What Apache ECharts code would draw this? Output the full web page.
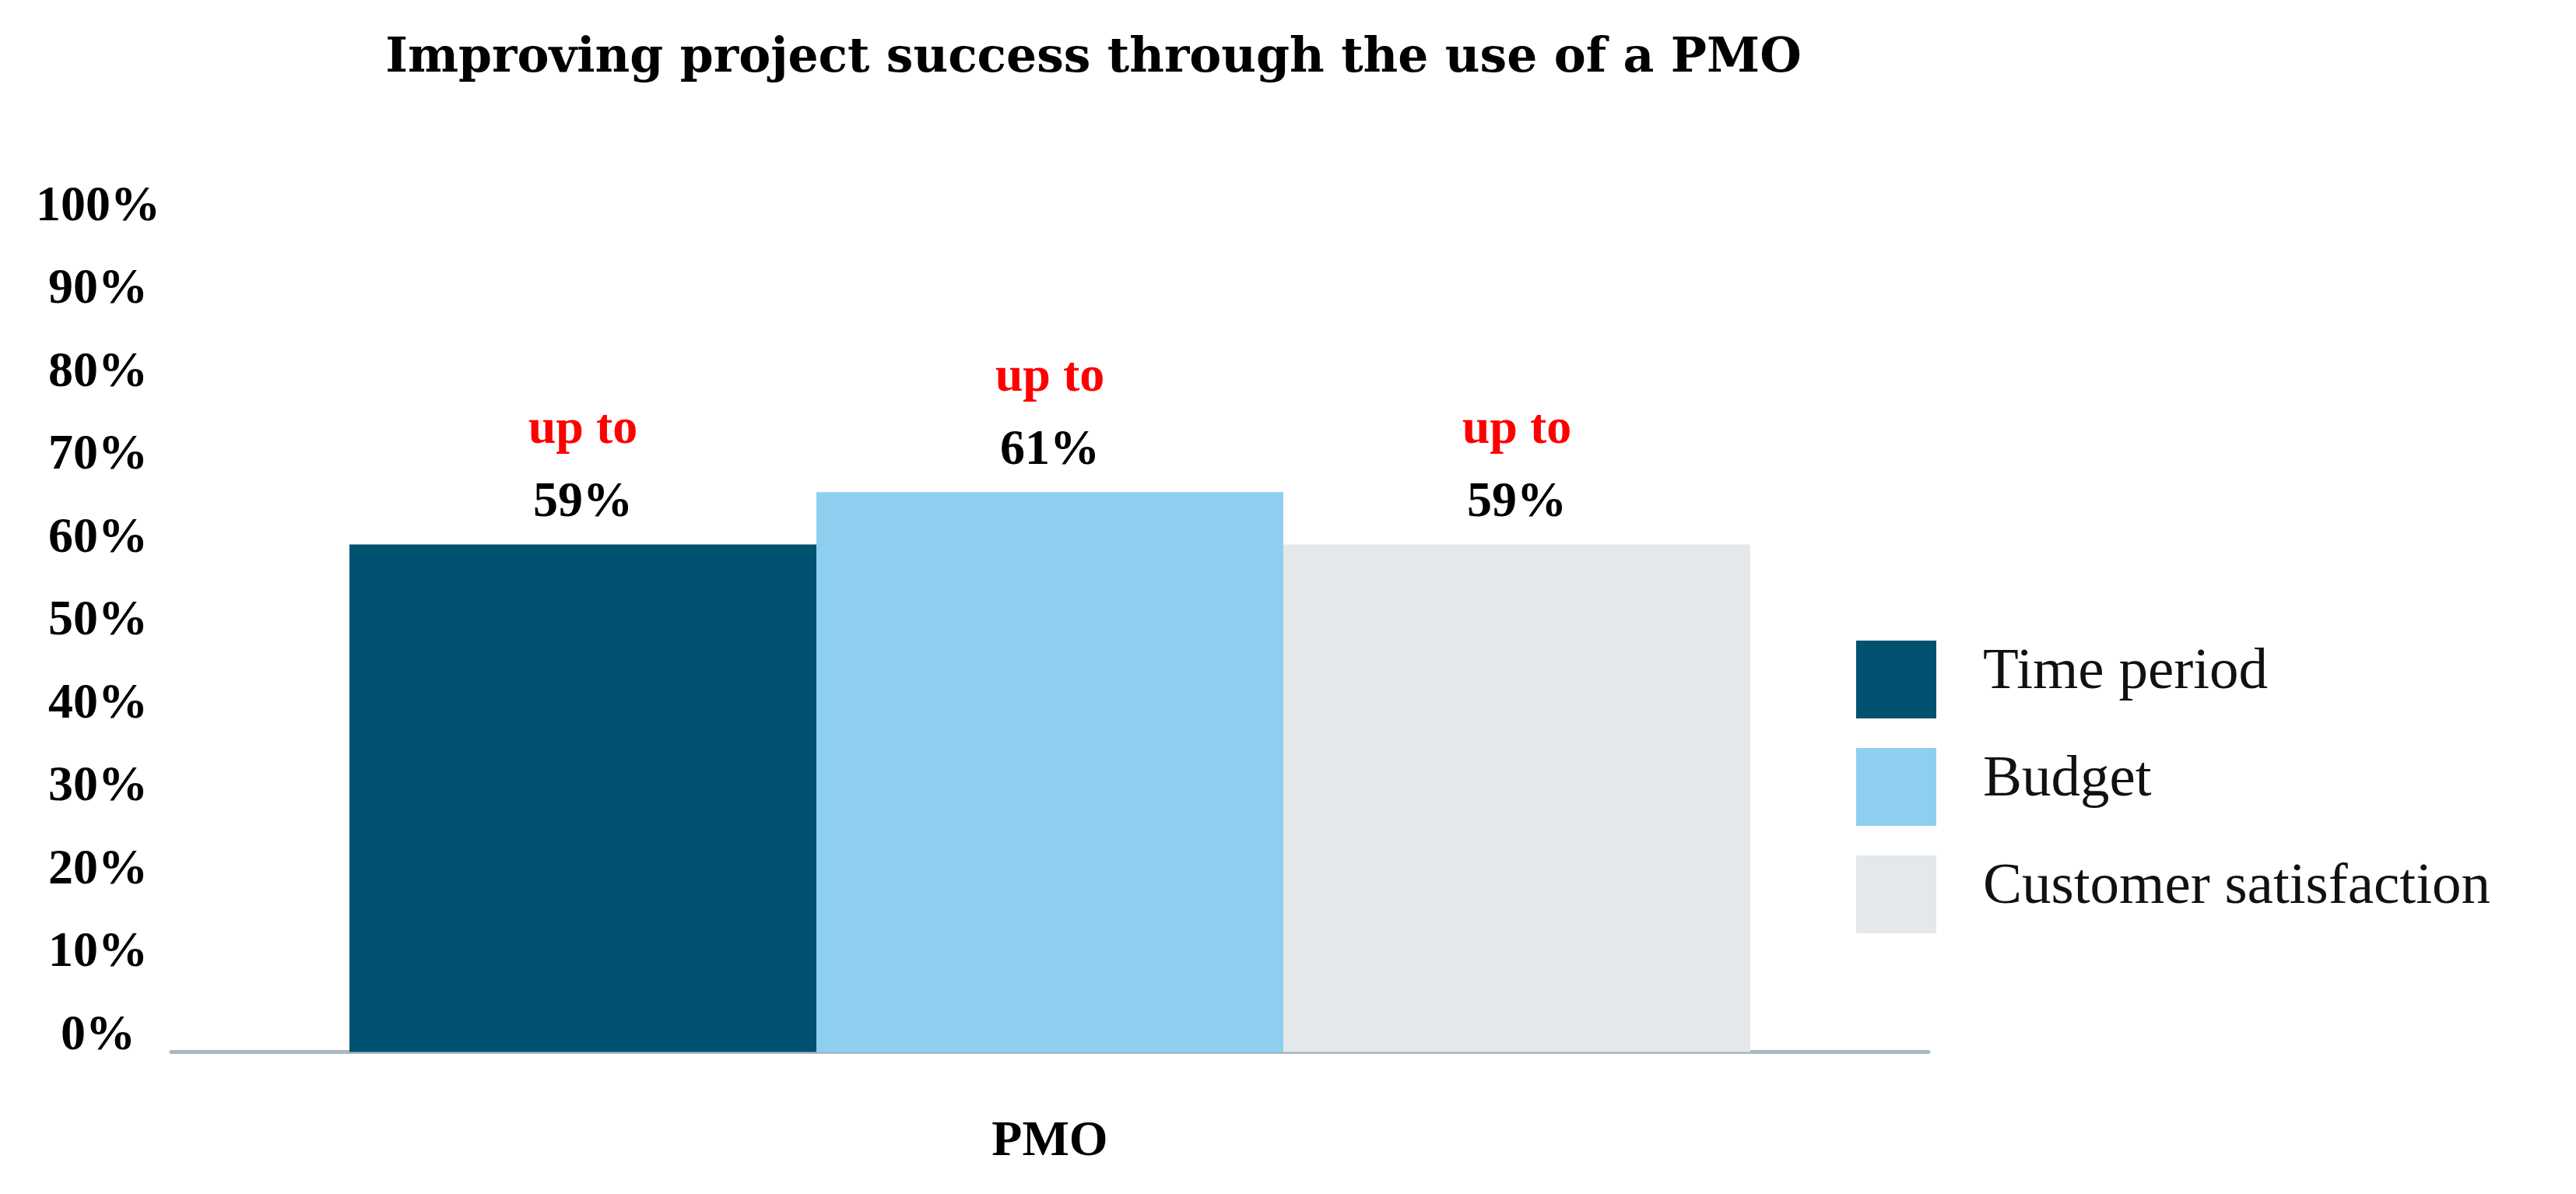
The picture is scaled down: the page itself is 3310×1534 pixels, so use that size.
<!DOCTYPE html>
<html>
<head>
<meta charset="utf-8">
<script src="https://cdn.jsdelivr.net/npm/echarts@6/dist/echarts.min.js"></script>
<style>html,body{margin:0;padding:0;background:#fff}#c{width:3310px;height:1534px}</style>
</head>
<body>
<div id="c"></div>
<script>
const titleText = 'Improving project success through the use of a PMO';
const categories = ['PMO'];
const seriesNames = ['Time period', 'Budget', 'Customer satisfaction'];
const seriesValues = [61.2, 67.5, 61.2];
const labelPrefix = ['up to', 'up to', 'up to'];
const labelValues = ['59%', '61%', '59%'];
const colors = ['#005270', '#8ecff0', '#e4e8eb'];
const yTicks = [0, 10, 20, 30, 40, 50, 60, 70, 80, 90, 100];

const FONT = "'Liberation Serif', 'DejaVu Serif', serif";
const TITLE_FONT = "'DejaVu Serif', 'Liberation Serif', serif";
const chart = echarts.init(document.getElementById('c'));

const series = seriesNames.map((name, i) => ({
  name: name,
  type: 'bar',
  data: [seriesValues[i]],
  barWidth: 600,
  barGap: '0%',
  itemStyle: { color: colors[i] },
  z: i === 1 ? 3 : 2,
  label: {
    show: true,
    position: 'top',
    distance: 6,
    formatter: () => '{a|' + labelPrefix[i] + '}\n{b|' + labelValues[i] + '}',
    rich: {
      a: { color: '#ff0000', fontFamily: FONT, fontWeight: 'bold', fontSize: 64, lineHeight: 94 },
      b: { color: '#000', fontFamily: FONT, fontWeight: 'bold', fontSize: 64, lineHeight: 94 }
    }
  }
}));

chart.setOption({
  backgroundColor: '#fff',
  animation: false,
  color: colors,
  graphic: [{
    type: 'text',
    x: 1405,
    y: 76,
    style: {
      text: titleText,
      textAlign: 'center',
      textVerticalAlign: 'middle',
      fontFamily: TITLE_FONT,
      fontWeight: 'bold',
      fontSize: 61.5,
      fill: '#000'
    }
  }],
  legend: {
    orient: 'vertical',
    left: 2385,
    top: 823,
    padding: 0,
    itemWidth: 103,
    itemHeight: 100,
    itemGap: 38,
    icon: 'rect',
    data: seriesNames,
    formatter: n => '{t|' + n + '}',
    textStyle: {
      fontFamily: FONT, fontSize: 75, color: '#111',
      rich: { t: { fontFamily: FONT, fontSize: 75, color: '#111', padding: [0, 0, 18, 55] } }
    }
  },
  grid: { left: 220, right: 832, top: 286, bottom: 182.5, containLabel: false },
  xAxis: {
    type: 'category',
    data: categories,
    axisLine: { show: true, lineStyle: { color: '#aab8c1', width: 5 } },
    axisTick: { show: false },
    axisLabel: {
      margin: 116,
      verticalAlign: 'middle',
      fontFamily: FONT, fontWeight: 'bold', fontSize: 64, color: '#000'
    }
  },
  yAxis: {
    type: 'value',
    min: yTicks[0],
    max: yTicks[yTicks.length - 1],
    interval: yTicks[1] - yTicks[0],
    axisLine: { show: false },
    axisTick: { show: false },
    splitLine: { show: false },
    axisLabel: {
      formatter: v => v + '%',
      align: 'center',
      verticalAlign: 'bottom',
      lineHeight: 40,
      margin: 94,
      fontFamily: FONT, fontWeight: 'bold', fontSize: 64, color: '#000'
    }
  },
  series: series
});
</script>
</body>
</html>
